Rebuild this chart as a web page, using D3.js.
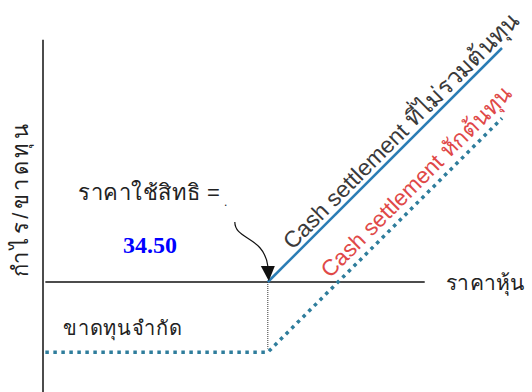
<!DOCTYPE html>
<html>
<head>
<meta charset="utf-8">
<script src="https://cdn.jsdelivr.net/npm/d3@7"></script>
<style>
    body { margin: 0; background: #fff; }
    text { font-family: "Liberation Sans", Arial, sans-serif; }
</style>
</head>
<body>
<div id="chart"></div>
<script>
// payoff of a call option, strike 34.50
var strike = 34.5;
var grossPrices = [34.5, 44.5];
var grossPayoff = [0, 10];
var netPrices = [25, 34.5, 44.5];
var netPayoff = [-3, -3, 7];

var yLabel = 'กำไร/ขาดทุน';
var xLabel = 'ราคาหุ้น';
var strikeLabel = 'ราคาใช้สิทธิ =';
var strikeValue = '34.50';
var lossLabel = 'ขาดทุนจำกัด';
var grossLabel = ['Cash settlement ', 'ที่ไม่รวมต้นทุน'];
var netLabel = ['Cash settlement ', 'หักต้นทุน'];

var width = 532;
var height = 392;

var svg = d3.select('#chart')
    .append('svg')
    .attr('width', width)
    .attr('height', height);

var xScale = d3.scaleLinear().domain([24.9, 44.5]).range([43, 502]);
var yScale = d3.scaleLinear().domain([0, 10]).range([282, 48]);

var line = d3.line()
    .x(function(d) { return xScale(d[0]); })
    .y(function(d) { return yScale(d[1]); });

// axes
svg.append('line')
    .attr('x1', xScale(25)).attr('x2', xScale(41.2))
    .attr('y1', yScale(0)).attr('y2', yScale(0))
    .attr('stroke', '#111').attr('stroke-width', 1.5);
svg.append('line')
    .attr('x1', xScale(24.9)).attr('x2', xScale(24.9))
    .attr('y1', yScale(10.35)).attr('y2', yScale(-4.7))
    .attr('stroke', '#111').attr('stroke-width', 1.5);

// strike drop line
svg.append('line')
    .attr('x1', xScale(strike)).attr('x2', xScale(strike))
    .attr('y1', yScale(0)).attr('y2', yScale(-2.85))
    .attr('stroke', '#333').attr('stroke-width', 1)
    .attr('stroke-dasharray', '1,1');

// net payoff (dotted)
svg.append('path')
    .datum(d3.zip(netPrices, netPayoff))
    .attr('d', line)
    .attr('fill', 'none')
    .attr('stroke', '#2f7d9c')
    .attr('stroke-width', 3.5)
    .attr('stroke-dasharray', '3.5,4.5');

// gross payoff (solid)
svg.append('path')
    .datum(d3.zip(grossPrices, grossPayoff))
    .attr('d', line)
    .attr('fill', 'none')
    .attr('stroke', '#2b7db5')
    .attr('stroke-width', 2.5);

// labels
svg.append('text')
    .attr('transform', 'translate(28,' + 199 + ') rotate(-90)')
    .attr('text-anchor', 'middle')
    .attr('font-size', 22)
    .attr('letter-spacing', 3.5)
    .attr('fill', '#222')
    .text(yLabel);

svg.append('text')
    .attr('x', 446).attr('y', yScale(0) + 8)
    .attr('font-size', 21)
    .attr('letter-spacing', 0.3)
    .attr('fill', '#222')
    .text(xLabel);

svg.append('text')
    .attr('x', 78).attr('y', 200)
    .attr('font-size', 22)
    .attr('letter-spacing', 0.5)
    .attr('fill', '#222')
    .text(strikeLabel);

svg.append('text')
    .attr('x', 224).attr('y', 206)
    .attr('font-size', 12)
    .attr('fill', '#222')
    .text('.');

svg.append('text')
    .attr('x', 123).attr('y', 253)
    .style('font-family', '"Liberation Serif", "Times New Roman", serif')
    .attr('font-weight', 'bold')
    .attr('font-size', 24)
    .attr('fill', '#0000ff')
    .text(strikeValue);

svg.append('text')
    .attr('x', 63).attr('y', 335)
    .attr('font-size', 20)
    .attr('letter-spacing', 0.8)
    .attr('fill', '#222')
    .text(lossLabel);

// curved arrow to the strike
var sx = xScale(strike);
var sy = yScale(0);
svg.append('path')
    .attr('d', 'M' + (sx - 33) + ',' + (sy - 60) +
        ' C' + (sx - 33) + ',' + (sy - 42) + ' ' + (sx - 4) + ',' + (sy - 46) + ' ' + (sx) + ',' + (sy - 16))
    .attr('fill', 'none')
    .attr('stroke', '#111')
    .attr('stroke-width', 1.2);
svg.append('path')
    .attr('d', 'M' + (sx - 7) + ',' + (sy - 16) + ' L' + (sx + 7) + ',' + (sy - 16) + ' L' + (sx + 1) + ',' + (sy - 1) + ' Z')
    .attr('fill', '#111');

// rotated labels along the lines
function alongLine(p, v, offset) {
    var x = xScale(p) - offset * Math.SQRT1_2;
    var y = yScale(v) - offset * Math.SQRT1_2;
    return 'translate(' + x + ',' + y + ') rotate(-45)';
}

var gross = svg.append('text')
    .attr('transform', alongLine(35.7, 1.2, 5))
    .attr('font-size', 23)
    .attr('fill', '#3a3a3a');
gross.append('tspan').text(grossLabel[0]);
gross.append('tspan').attr('font-size', 24).text(grossLabel[1]);

var net = svg.append('text')
    .attr('transform', alongLine(37.4, -0.1, 8))
    .attr('font-size', 22.5)
    .attr('fill', '#e04848');
net.append('tspan').text(netLabel[0]);
net.append('tspan').attr('font-size', 23).text(netLabel[1]);
</script>
</body>
</html>
